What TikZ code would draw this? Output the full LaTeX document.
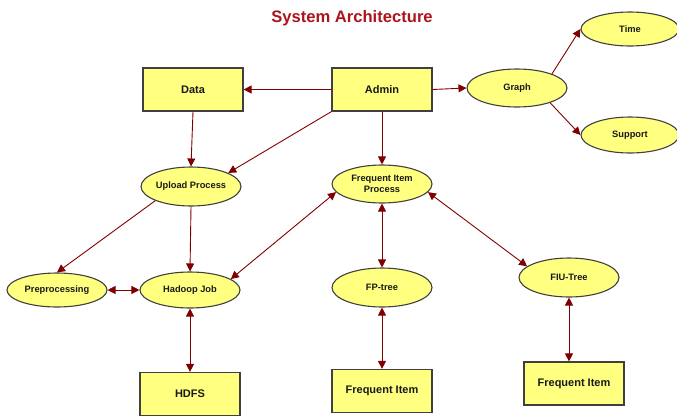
\documentclass[tikz,border=0pt]{standalone}
\usepackage{fontspec}
\setmainfont{Liberation Sans}
\usetikzlibrary{shapes.geometric,arrows.meta}
\definecolor{boxfill}{RGB}{255,255,128}
\definecolor{boxline}{RGB}{64,64,64}
\definecolor{arrowred}{RGB}{128,0,0}
\definecolor{titlered}{RGB}{172,20,28}
\tikzset{
  rectbox/.style={draw=boxline, fill=boxfill, line width=1.2pt, minimum width=100pt, minimum height=43pt, inner sep=0pt, font=\fontsize{11}{13}\selectfont\bfseries, text=black!90},
  ellbox/.style={ellipse, draw=boxline, fill=boxfill, line width=1.1pt, minimum width=100pt, minimum height=38pt, inner sep=0pt, align=center, font=\fontsize{9.3}{11.5}\selectfont\bfseries, text=black!90},
  conn/.style={draw=arrowred, line width=0.9pt, -{Triangle[length=8pt,width=8pt]}},
  biconn/.style={draw=arrowred, line width=0.9pt, {Triangle[length=8pt,width=8pt]}-{Triangle[length=8pt,width=8pt]}}
}
\begin{document}
\begin{tikzpicture}[x=1pt,y=-1pt]
\useasboundingbox (0,0) rectangle (677,416);
\node[font=\fontsize{16.6}{19}\selectfont\bfseries, text=titlered] (title) at (352,18) {System Architecture};
% boxes
\node[rectbox] (data) at (193,89.5) {Data};
\node[rectbox] (admin) at (382,89.5) {Admin};
\node[rectbox] (hdfs) at (190,394) {HDFS};
\node[rectbox] (fi1) at (382,391) {Frequent Item};
\node[rectbox] (fi2) at (574,383.5) {Frequent Item};
% ellipses
\node[ellbox] (graph) at (517,88) {Graph};
\node[ellbox, minimum width=98pt, minimum height=34pt] (time) at (630,29) {Time};
\node[ellbox, minimum width=98pt, minimum height=36pt] (support) at (630,135) {Support};
\node[ellbox, minimum height=39pt] (upload) at (191,186.5) {Upload Process};
\node[ellbox, minimum height=34pt] (prep) at (57,290) {Preprocessing};
\node[ellbox, minimum height=36pt] (hadoop) at (190,290) {Hadoop Job};
\node[ellbox] (fip) at (382,184) {Frequent Item\\Process};
\node[ellbox, minimum height=39pt] (fp) at (382,287.5) {FP-tree};
\node[ellbox, minimum height=39pt] (fiu) at (569,277.5) {FIU-Tree};
% connectors
\draw[conn] (admin.west) -- (data.east);
\draw[conn] (admin.east) -- (graph.west);
\draw[conn] (graph.22) -- (time.west);
\draw[conn] (graph.-24) -- (support.west);
\draw[conn] (data.south) -- (upload.north);
\draw[conn] (admin.south west) -- (upload.20);
\draw[conn] (admin.south) -- (fip.north);
\draw[conn] (upload.south west) -- (prep.north);
\draw[conn] (upload.south) -- (hadoop.north);
\draw[biconn] (prep.east) -- (hadoop.west);
\draw[biconn] (hadoop.15) -- (fip.190);
\draw[biconn] (hadoop.south) -- (hdfs.north);
\draw[biconn] (fip.south) -- (fp.north);
\draw[biconn] (fp.south) -- (fi1.north);
\draw[biconn] (fip.-10) -- (fiu.165);
\draw[biconn] (fiu.south) -- (fiu.south |- fi2.north);
\end{tikzpicture}
\end{document}
